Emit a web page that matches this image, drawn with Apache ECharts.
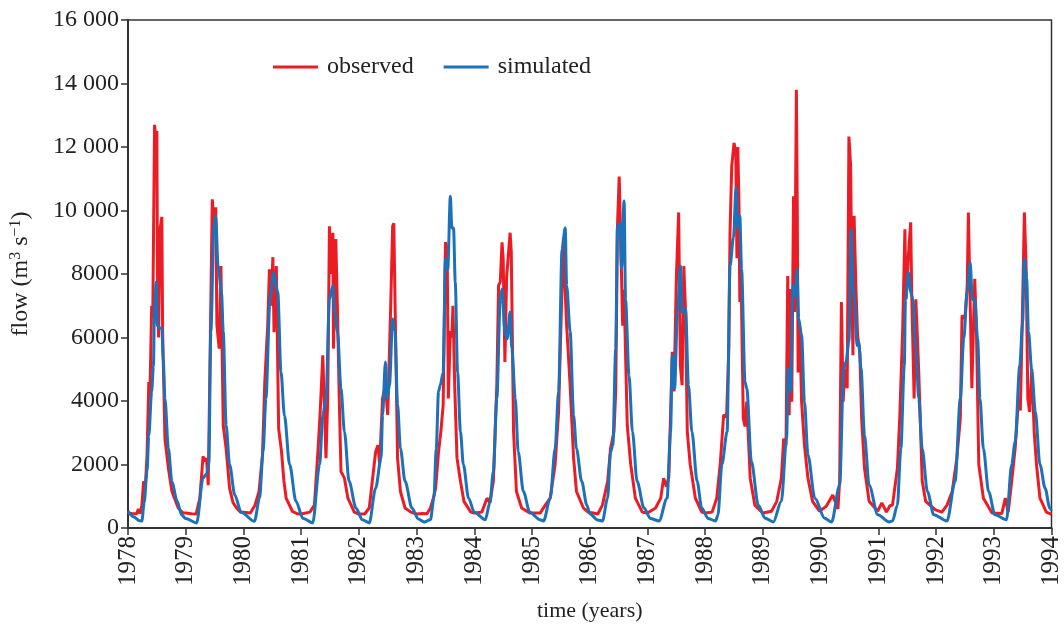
<!DOCTYPE html>
<html>
<head>
<meta charset="utf-8">
<script src="https://cdn.jsdelivr.net/npm/echarts@6/dist/echarts.min.js"></script>
<style>html,body{margin:0;padding:0;background:#fff}#c{width:1064px;height:627px}</style>
</head>
<body>
<div id="c"></div>
<script>
var seriesNames = ['observed', 'simulated'];
var yTicks = [0, 2000, 4000, 6000, 8000, 10000, 12000, 14000, 16000];
var years = [1978,1979,1980,1981,1982,1983,1984,1985,1986,1987,1988,1989,1990,1991,1992,1993,1994];

var observed = [
[1978.00,470],[1978.08,450],[1978.15,450],[1978.18,600],[1978.21,450],[1978.24,700],[1978.27,1470],[1978.30,1300],[1978.33,2300],[1978.36,4600],[1978.38,4200],[1978.41,7000],[1978.43,6800],[1978.46,12700],[1978.48,12300],[1978.50,12500],[1978.51,8060],[1978.53,6000],[1978.555,9400],[1978.586,9800],[1978.60,6200],[1978.64,2820],[1978.70,1880],[1978.76,1160],[1978.87,630],[1978.95,480],
[1979.00,470],[1979.10,450],[1979.18,440],[1979.245,940],[1979.30,2260],[1979.33,2100],[1979.36,2200],[1979.39,1350],[1979.42,5100],[1979.46,10350],[1979.49,9600],[1979.52,10100],[1979.54,6400],[1979.58,5650],[1979.61,8250],[1979.65,3230],[1979.70,2500],[1979.76,1250],[1979.82,800],[1979.88,630],[1979.95,500],
[1980.00,500],[1980.12,470],[1980.20,720],[1980.27,1150],[1980.33,2300],[1980.37,4600],[1980.42,6370],[1980.45,8150],[1980.48,7000],[1980.51,8530],[1980.53,6170],[1980.55,7400],[1980.57,8250],[1980.61,3130],[1980.66,2400],[1980.70,1500],[1980.74,940],[1980.85,520],[1980.93,450],
[1981.00,440],[1981.15,500],[1981.23,720],[1981.29,2400],[1981.33,3660],[1981.375,5440],[1981.43,2200],[1981.46,4080],[1981.49,9500],[1981.52,8000],[1981.55,9300],[1981.56,5650],[1981.60,9100],[1981.63,6800],[1981.66,4080],[1981.69,1780],[1981.75,1570],[1981.81,940],[1981.92,500],
[1982.00,440],[1982.10,440],[1982.18,630],[1982.29,2400],[1982.33,2610],[1982.36,2000],[1982.41,4080],[1982.46,4500],[1982.50,3560],[1982.55,6900],[1982.585,9500],[1982.605,9600],[1982.635,6170],[1982.67,2200],[1982.72,1150],[1982.80,630],[1982.90,500],
[1983.00,440],[1983.10,460],[1983.18,450],[1983.24,630],[1983.29,940],[1983.33,1250],[1983.38,2400],[1983.42,3030],[1983.46,3860],[1983.50,9000],[1983.53,8800],[1983.55,4080],[1983.585,6200],[1983.61,6000],[1983.63,7000],[1983.66,4500],[1983.70,2200],[1983.76,1470],[1983.82,840],[1983.94,500],
[1984.00,470],[1984.13,500],[1984.22,940],[1984.27,800],[1984.33,1470],[1984.39,4500],[1984.42,7640],[1984.45,7750],[1984.48,9000],[1984.50,8500],[1984.53,5230],[1984.56,7900],[1984.62,9300],[1984.64,8700],[1984.68,3030],[1984.73,1150],[1984.82,630],[1984.96,470],
[1985.06,470],[1985.14,470],[1985.23,720],[1985.315,940],[1985.40,2000],[1985.46,3660],[1985.52,7640],[1985.545,9150],[1985.57,7640],[1985.60,6370],[1985.66,4500],[1985.72,2200],[1985.77,1150],[1985.89,630],[1985.97,500],
[1986.06,470],[1986.14,440],[1986.22,720],[1986.31,1470],[1986.36,2500],[1986.42,3030],[1986.45,4300],[1986.48,9500],[1986.51,11070],[1986.54,8800],[1986.57,6370],[1986.595,7500],[1986.62,5500],[1986.65,3230],[1986.71,2000],[1986.79,940],[1986.91,500],
[1987.00,470],[1987.14,630],[1987.23,940],[1987.28,1570],[1987.33,1300],[1987.37,1600],[1987.43,5550],[1987.46,4300],[1987.50,7840],[1987.54,9940],[1987.57,5100],[1987.60,4500],[1987.63,8250],[1987.66,6800],[1987.69,3030],[1987.74,2000],[1987.83,940],[1987.94,500],
[1988.00,470],[1988.12,500],[1988.20,940],[1988.26,2000],[1988.32,3560],[1988.37,3500],[1988.41,5650],[1988.43,9300],[1988.46,11400],[1988.50,12130],[1988.53,11800],[1988.55,8500],[1988.565,12000],[1988.585,10260],[1988.60,7120],[1988.62,8150],[1988.66,3450],[1988.69,3200],[1988.72,3980],[1988.78,1570],[1988.86,720],
[1989.00,470],[1989.15,530],[1989.24,840],[1989.32,1570],[1989.36,2820],[1989.40,2600],[1989.43,7940],[1989.455,3550],[1989.48,7530],[1989.50,3980],[1989.53,10450],[1989.55,6800],[1989.58,13800],[1989.595,10200],[1989.61,4900],[1989.64,6270],[1989.67,3980],[1989.72,2600],[1989.78,1570],[1989.86,840],[1989.98,530],
[1990.10,690],[1990.21,1040],[1990.30,600],[1990.33,1500],[1990.36,7120],[1990.39,3980],[1990.42,5020],[1990.46,4400],[1990.49,12330],[1990.52,11400],[1990.54,7640],[1990.56,5440],[1990.58,9830],[1990.61,7640],[1990.64,6070],[1990.68,5500],[1990.71,3450],[1990.76,1880],[1990.84,840],[1990.99,530],
[1991.06,790],[1991.14,500],[1991.20,700],[1991.245,720],[1991.33,1880],[1991.37,3450],[1991.42,6170],[1991.45,8560],[1991.46,9410],[1991.48,7200],[1991.52,8560],[1991.56,9630],[1991.58,7200],[1991.62,4080],[1991.65,7200],[1991.70,4920],[1991.76,1470],[1991.82,840],[1991.99,570],
[1992.10,500],[1992.19,720],[1992.28,1150],[1992.36,2200],[1992.42,3450],[1992.45,6690],[1992.50,6600],[1992.54,7640],[1992.56,9940],[1992.59,7200],[1992.62,4400],[1992.67,7850],[1992.70,6200],[1992.74,2000],[1992.82,940],[1992.97,470],
[1993.14,460],[1993.20,940],[1993.25,500],[1993.31,1470],[1993.37,2500],[1993.43,4080],[1993.46,3700],[1993.49,6200],[1993.53,9940],[1993.56,8250],[1993.59,4080],[1993.62,3660],[1993.66,5000],[1993.70,3030],[1993.74,2000],[1993.80,940],[1993.91,500],[1994.00,430]
];

var simulated = [
[1978.00,530],[1978.10,350],[1978.20,230],[1978.24,220],[1978.28,800],[1978.33,1800],[1978.36,2900],[1978.41,4300],[1978.44,5100],[1978.46,7000],[1978.49,7750],[1978.51,6370],[1978.55,6300],[1978.586,6300],[1978.61,5330],[1978.64,4080],[1978.70,2500],[1978.76,1470],[1978.85,850],[1978.93,410],[1979.00,300],[1979.19,160],
[1979.30,1570],[1979.36,1700],[1979.40,2000],[1979.435,6170],[1979.49,9500],[1979.52,9830],[1979.56,8250],[1979.62,7430],[1979.65,6200],[1979.70,3230],[1979.76,2000],[1979.85,1040],[1979.96,500],[1980.19,210],
[1980.28,940],[1980.34,2400],[1980.39,4080],[1980.46,7200],[1980.52,8050],[1980.595,7430],[1980.65,4920],[1980.71,3550],[1980.80,2000],[1980.91,840],[1981.03,310],[1981.20,160],
[1981.32,2000],[1981.375,3550],[1981.43,4080],[1981.49,7200],[1981.55,7640],[1981.58,6800],[1981.63,6170],[1981.69,4400],[1981.75,3030],[1981.83,1470],[1981.95,630],[1982.06,260],[1982.18,160],
[1982.29,1250],[1982.385,2200],[1982.41,3550],[1982.46,5230],[1982.49,4080],[1982.53,4500],[1982.585,6580],[1982.625,6200],[1982.67,3900],[1982.72,2500],[1982.80,1470],[1982.92,630],[1983.03,280],[1983.13,190],
[1983.24,260],[1983.30,940],[1983.34,2500],[1983.38,4300],[1983.41,4500],[1983.46,4900],[1983.50,8470],[1983.54,8150],[1983.585,10450],[1983.61,9450],[1983.64,9450],[1983.67,7750],[1983.71,4900],[1983.76,3030],[1983.81,2000],[1983.90,940],[1984.00,500],[1984.19,260],
[1984.27,800],[1984.33,1780],[1984.39,4080],[1984.45,7200],[1984.48,7530],[1984.53,6200],[1984.57,5960],[1984.62,6800],[1984.65,5650],[1984.71,4080],[1984.76,2400],[1984.85,1150],[1984.96,500],[1985.14,260],[1985.20,220],
[1985.315,940],[1985.40,2500],[1985.46,4300],[1985.52,8780],[1985.575,9450],[1985.60,7640],[1985.66,6200],[1985.72,3550],[1985.77,2500],[1985.86,1470],[1985.95,720],[1986.00,450],[1986.14,250],[1986.22,220],
[1986.31,940],[1986.36,2400],[1986.40,2600],[1986.45,5650],[1986.48,9500],[1986.525,9600],[1986.55,8200],[1986.595,10300],[1986.62,7200],[1986.68,4800],[1986.74,3030],[1986.82,1470],[1986.94,630],[1987.05,300],[1987.20,220],
[1987.34,940],[1987.40,3030],[1987.43,5440],[1987.47,4400],[1987.52,6800],[1987.57,8250],[1987.60,6800],[1987.66,6900],[1987.71,4500],[1987.77,3030],[1987.86,1470],[1987.94,630],[1988.05,300],[1988.18,220],
[1988.22,400],[1988.29,2000],[1988.38,3030],[1988.43,8250],[1988.49,9150],[1988.535,10730],[1988.565,9450],[1988.60,9830],[1988.63,8150],[1988.69,4600],[1988.72,4400],[1988.80,2100],[1988.92,720],[1989.04,310],[1989.18,190],
[1989.32,840],[1989.41,2820],[1989.44,5020],[1989.48,4300],[1989.52,7640],[1989.56,7300],[1989.59,8150],[1989.62,6600],[1989.67,6070],[1989.72,3980],[1989.78,2300],[1989.90,940],[1990.07,310],[1990.19,190],
[1990.33,1350],[1990.40,5020],[1990.44,5230],[1990.49,5860],[1990.53,9410],[1990.56,7640],[1990.59,7130],[1990.63,5750],[1990.66,5860],[1990.70,5020],[1990.76,2920],[1990.84,1350],[1990.99,420],[1991.19,190],
[1991.245,220],[1991.33,720],[1991.39,2500],[1991.45,5120],[1991.47,7200],[1991.52,8050],[1991.56,7430],[1991.60,7200],[1991.65,5650],[1991.70,4080],[1991.76,2500],[1991.85,1150],[1991.96,420],[1992.19,220],
[1992.33,1470],[1992.42,4080],[1992.48,5960],[1992.54,7430],[1992.59,8360],[1992.63,7200],[1992.67,7200],[1992.72,5960],[1992.76,4080],[1992.82,2500],[1992.91,1150],[1993.02,420],[1993.22,260],
[1993.31,2000],[1993.37,2720],[1993.45,5120],[1993.50,6480],[1993.53,8470],[1993.57,7850],[1993.60,6200],[1993.66,4920],[1993.72,3660],[1993.80,2000],[1993.89,1250],[1993.97,630],[1994.00,550]
];

var FONT = '"Liberation Serif", "Times New Roman", serif';
var chart = echarts.init(document.getElementById('c'), null, {renderer: 'canvas'});
chart.setOption({
  animation: false,
  backgroundColor: '#fff',
  textStyle: {fontFamily: FONT},
  grid: {left: 126, right: 8, top: 20, bottom: 97, show: true, borderColor: '#333', borderWidth: 1.5, backgroundColor: 'transparent'},
  legend: {
    left: 268, top: 50, icon: 'rect', itemWidth: 45, itemHeight: 3, itemGap: 30,
    textStyle: {fontFamily: FONT, fontSize: 24, color: '#222', padding: [0,0,0,4]},
    data: seriesNames
  },
  xAxis: {
    type: 'value', min: years[0], max: years[years.length-1], interval: 1,
    name: 'time (years)', nameLocation: 'middle', nameGap: 72,
    nameTextStyle: {fontFamily: FONT, fontSize: 22, color: '#222'},
    axisLine: {show: true, lineStyle: {color: '#333', width: 2}},
    axisTick: {show: true, length: 7, lineStyle: {color: '#333', width: 1.5}},
    axisLabel: {rotate: 90, fontFamily: FONT, fontSize: 25, color: '#222', margin: 8, formatter: function(v){return String(v);}},
    splitLine: {show: false}
  },
  yAxis: {
    type: 'value', min: yTicks[0], max: yTicks[yTicks.length-1], interval: 2000,
    name: 'flow (m{sup|3} s{sup|\u22121})', nameLocation: 'middle', nameGap: 94, nameRotate: 90,
    nameTextStyle: {fontFamily: FONT, fontSize: 24, color: '#222',
      rich: {sup: {fontFamily: FONT, fontSize: 16, color: '#222', verticalAlign: 'top', padding: [0,0,10,0]}}},
    axisLine: {show: true, lineStyle: {color: '#333', width: 2}},
    axisTick: {show: true, length: 7, lineStyle: {color: '#333', width: 1.5}},
    axisLabel: {fontFamily: FONT, fontSize: 24, color: '#222', margin: 9,
      formatter: function(v){ return v >= 10000 ? String(v).replace(/(\d)(\d{3})$/, '$1 $2') : String(v); }},
    splitLine: {show: false}
  },
  series: [
    {name: seriesNames[0], type: 'line', data: observed, showSymbol: false, symbol: 'none',
     lineStyle: {color: '#ED1C24', width: 3}, itemStyle: {color: '#ED1C24'}, z: 2},
    {name: seriesNames[1], type: 'line', data: simulated, showSymbol: false, symbol: 'none', smooth: 0.3, smoothMonotone: 'x',
     lineStyle: {color: '#1B72BA', width: 3}, itemStyle: {color: '#1B72BA'}, z: 3}
  ]
});
</script>
</body>
</html>
